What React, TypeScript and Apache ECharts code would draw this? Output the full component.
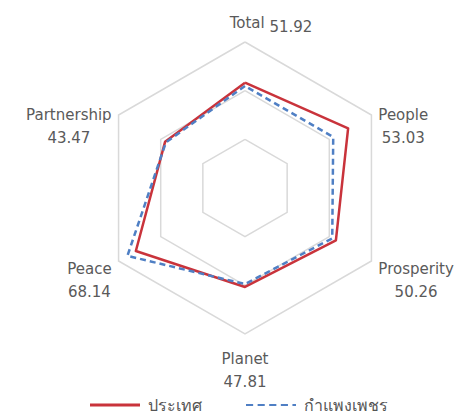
import React, { useEffect, useRef } from "react";
import * as echarts from "echarts";

// Categories in clockwise order starting at the top (as in the reference)
const categories = ["Total", "People", "Prosperity", "Planet", "Peace", "Partnership"];
const labelValues = ["51.92", "53.03", "50.26", "47.81", "68.14", "43.47"];
const seriesNames = ["ประเทศ", "กำแพงเพชร"];
const countryValues = [64.9, 73.4, 64.7, 61.0, 77.7, 56.9];
const provinceValues = [62.9, 62.8, 62.1, 59.2, 83.7, 56.3];
const axisMin = 0;
const axisMax = 90;

// ECharts radar lays indicators counter-clockwise; reorder to get clockwise layout
const order = [0, 5, 4, 3, 2, 1];

export default function App() {
  const ref = useRef<HTMLDivElement>(null);
  useEffect(() => {
    document.body.style.margin = "0";
    const chart = echarts.init(ref.current!, null, { renderer: "svg" });
    const font = "DejaVu Sans";
    const labelFor: Record<string, string> = {};
    categories.forEach((c, i) => (labelFor[c] = labelValues[i]));
    chart.setOption({
      animation: false,
      backgroundColor: "#ffffff",
      legend: {
        top: 395,
        left: 85,
        padding: [0, 5, 0, 5],
        itemWidth: 50,
        itemHeight: 3,
        itemGap: 44,
        textStyle: { fontFamily: font, fontSize: 16, lineHeight: 20, color: "#555", padding: [0, 0, 0, 3] },
        data: [
          { name: seriesNames[0], icon: "rect", itemStyle: { color: "#C9333B" } },
          {
            name: seriesNames[1],
            icon: "path://M0,0h8v2h-8zM13,0h8v2h-8zM26,0h8v2h-8zM39,0h8v2h-8zM52,0h4v2h-4z",
            itemStyle: { color: "#4F7FC4" },
          },
        ],
      },
      radar: {
        center: [245, 188],
        radius: 146,
        shape: "polygon",
        splitNumber: 3,
        startAngle: 90,
        indicator: order.map((i) => ({ name: categories[i], min: axisMin, max: axisMax })),
        axisLine: { show: false },
        splitArea: { show: false },
        splitLine: { lineStyle: { color: "#d9d9d9", width: 1.5 } },
        axisName: {
          fontFamily: font,
          fontSize: 15,
          color: "#5a5a5a",
          formatter: (name: string) => {
            const v = labelFor[name];
            if (name === "Total") return `{pad|}{n|${name}} {v|${v}}`;
            if (name === "Planet") return `{pl|}\n{n|${name}}\n{n|${v}}`;
            if (name === "Peace" || name === "Prosperity")
              return `{lo|}\n{n|${name}}\n{n|${v}}`;
            return `{hi|}\n{n|${name}}\n{n|${v}}`;
          },
          rich: {
            n: { fontFamily: font, fontSize: 15, color: "#5a5a5a", align: "center", lineHeight: 23 },
            v: { fontFamily: font, fontSize: 15, color: "#5a5a5a", padding: [8, 0, 0, 0], lineHeight: 23 },
            pad: { width: 52, height: 1 },
            hi: { height: 30, lineHeight: 30 },
            lo: { height: 30, lineHeight: 30 },
            pl: { height: 5, lineHeight: 5 },
          },
        },
        nameGap: 8,
      },
      series: [
        {
          type: "radar",
          symbol: "none",
          data: [
            {
              name: seriesNames[0],
              value: order.map((i) => countryValues[i]),
              lineStyle: { color: "#C9333B", width: 2.5 },
              itemStyle: { color: "#C9333B" },
              z: 3,
            },
            {
              name: seriesNames[1],
              value: order.map((i) => provinceValues[i]),
              lineStyle: { color: "#4F7FC4", width: 2.5, type: [6, 4] },
              itemStyle: { color: "#4F7FC4" },
            },
          ],
        },
      ],
    });
    return () => chart.dispose();
  }, []);
  return <div ref={ref} style={{ width: 468, height: 417 }} />;
}
